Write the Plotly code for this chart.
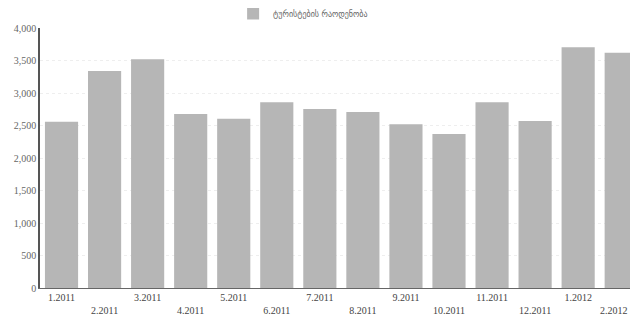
import plotly.graph_objects as go

categories = ["1.2011", "2.2011", "3.2011", "4.2011", "5.2011", "6.2011", "7.2011",
              "8.2011", "9.2011", "10.2011", "11.2011", "12.2011", "1.2012", "2.2012"]
values = [2558, 3338, 3518, 2677, 2605, 2857, 2754, 2708, 2518, 2369, 2857, 2569, 3703, 3620]
series_name = "ტურისტების რაოდენობა"
y_ticks = [0, 500, 1000, 1500, 2000, 2500, 3000, 3500, 4000]
y_tick_labels = ["0", "500", "1,000", "1,500", "2,000", "2,500", "3,000", "3,500", "4,000"]

x_idx = list(range(len(categories)))
x_text = [c if i % 2 == 0 else "<br>" + c for i, c in enumerate(categories)]
# keep the last (edge) label inside the visible window
x_text[-1] = x_text[-1] + "\u00a0" * 6

fig = go.Figure()
fig.add_trace(go.Bar(
    x=x_idx, y=values, name=series_name,
    marker=dict(color="#b6b6b6", line=dict(width=0)),
    showlegend=True,
))

# the page body has an 8px default margin; the figure is sized to fill the rest of the window
fig.update_layout(
    width=630, height=307,
    margin=dict(l=32, r=0, t=20, b=27, autoexpand=False),
    paper_bgcolor="white", plot_bgcolor="white",
    bargap=0.23,
    font=dict(family="Liberation Serif, DejaVu Serif, serif", size=10, color="#555555"),
    legend=dict(orientation="h", x=0.44, xanchor="center", y=1.0, yanchor="bottom",
                font=dict(family="DejaVu Sans", size=8, color="#666666"),
                itemwidth=30, bgcolor="rgba(0,0,0,0)"),
    xaxis=dict(
        range=[-0.5, 13.39], tickmode="array", tickvals=x_idx, ticktext=x_text,
        showgrid=False, zeroline=False, showline=True, linecolor="#666666", linewidth=1,
        ticks="", tickfont=dict(size=10, color="#444444"),
        automargin=False, ticklabeloverflow="allow",
    ),
    yaxis=dict(
        range=[0, 4000], tickmode="array", tickvals=y_ticks, ticktext=y_tick_labels,
        showgrid=True, gridcolor="#eeeeee", griddash="dot", zeroline=False,
        showline=True, linecolor="#555555", linewidth=1.5, ticks="",
        tickfont=dict(size=10, color="#666666"), automargin=False,
    ),
)

fig.write_html("out.html")
